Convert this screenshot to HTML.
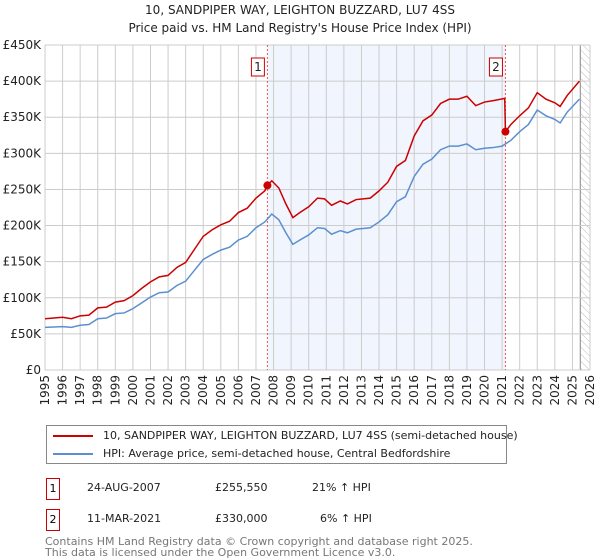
<!DOCTYPE html>
<html><head><meta charset="utf-8"><style>
body{margin:0;width:600px;height:560px;background:#fff;font-family:"DejaVu Sans","Liberation Sans",sans-serif;overflow:hidden;position:relative}
.t{position:absolute;white-space:nowrap}
</style></head><body>
<div class="t" style="left:0;width:600px;text-align:center;top:3px;font-size:12px;color:#222">10, SANDPIPER WAY, LEIGHTON BUZZARD, LU7 4SS</div>
<div class="t" style="left:0;width:600px;text-align:center;top:21px;font-size:12px;color:#222">Price paid vs. HM Land Registry's House Price Index (HPI)</div>
<svg id="chart" width="600" height="420" style="position:absolute;left:0;top:0;font-family:'DejaVu Sans',sans-serif"></svg>
<div style="position:absolute;left:46px;top:425px;width:459px;height:37px;border:1px solid #888">
<div class="t" style="left:6px;top:3px;font-size:11px;color:#222"><span style="display:inline-block;width:40px;height:2px;background:#cc0000;vertical-align:middle;margin-right:10px"></span>10, SANDPIPER WAY, LEIGHTON BUZZARD, LU7 4SS (semi-detached house)</div>
<div class="t" style="left:6px;top:21px;font-size:11px;color:#222"><span style="display:inline-block;width:40px;height:2px;background:#5b8fd0;vertical-align:middle;margin-right:10px"></span>HPI: Average price, semi-detached house, Central Bedfordshire</div>
</div>
<div>
<div class="t" style="left:46px;top:478px;width:12px;height:20px;border:1px solid #cc0000;font-size:11px;text-align:center;line-height:20px">1</div>
<div class="t" style="left:87px;top:481px;font-size:11px;color:#222">24-AUG-2007</div>
<div class="t" style="left:215px;top:481px;font-size:11px;color:#222">£255,550</div>
<div class="t" style="left:312px;top:481px;font-size:11px;color:#222">21% ↑ HPI</div>
</div>
<div>
<div class="t" style="left:46px;top:509px;width:12px;height:20px;border:1px solid #cc0000;font-size:11px;text-align:center;line-height:20px">2</div>
<div class="t" style="left:87px;top:512px;font-size:11px;color:#222">11-MAR-2021</div>
<div class="t" style="left:215px;top:512px;font-size:11px;color:#222">£330,000</div>
<div class="t" style="left:320px;top:512px;font-size:11px;color:#222">6% ↑ HPI</div>
</div>
<div class="t" style="left:45px;top:536px;font-size:11px;color:#777;line-height:11px">Contains HM Land Registry data © Crown copyright and database right 2025.<br>This data is licensed under the Open Government Licence v3.0.</div>
<script>
const hpiYears=[1995,1996,1996.5,1997,1997.5,1998,1998.5,1999,1999.5,2000,2000.5,2001,2001.5,2002,2002.5,2003,2003.5,2004,2004.5,2005,2005.5,2006,2006.5,2007,2007.5,2007.9,2008.3,2008.7,2009.1,2009.5,2010,2010.5,2010.9,2011.3,2011.8,2012.2,2012.7,2013.1,2013.5,2014,2014.5,2015,2015.5,2016,2016.5,2017,2017.5,2018,2018.5,2019,2019.5,2020,2020.5,2021,2021.5,2022,2022.5,2023,2023.5,2024,2024.3,2024.7,2025.4];
const hpiValues=[59,60,59,62,63,71,72,78,79,85,93,101,107,108,117,123,138,153,160,166,170,180,185,197,205,216,208,190,174,180,187,197,196,188,193,190,195,196,197,205,215,233,240,268,285,292,305,310,310,313,305,307,308,310,318,330,340,360,352,347,342,357,375];
const priceYears=[1995,1996,1996.5,1997,1997.5,1998,1998.5,1999,1999.5,2000,2000.5,2001,2001.5,2002,2002.5,2003,2003.5,2004,2004.5,2005,2005.5,2006,2006.5,2007,2007.5,2007.65,2007.9,2008.3,2008.7,2009.1,2009.5,2010,2010.5,2010.9,2011.3,2011.8,2012.2,2012.7,2013.1,2013.5,2014,2014.5,2015,2015.5,2016,2016.5,2017,2017.5,2018,2018.5,2019,2019.5,2020,2020.5,2021.15,2021.19,2021.5,2022,2022.5,2023,2023.5,2024,2024.3,2024.7,2025.4];
const priceValues=[71,73,71,75,76,86,87,94,96,103,113,122,129,131,142,149,167,185,194,201,206,218,224,238,248,255.5,262,252,230,211,218,226,238,237,228,234,230,236,237,238,248,260,282,290,324,345,353,369,375,375,379,366,371,373,376,330,340,352,363,384,375,370,365,380,400];
const saleYears=[2007.65,2021.19];
const saleValues=[255.55,330];
const saleLabels=["1","2"];
const yTicks=[0,50,100,150,200,250,300,350,400,450];
const yTickLabels=["£0","£50K","£100K","£150K","£200K","£250K","£300K","£350K","£400K","£450K"];
const xTicks=[1995,1996,1997,1998,1999,2000,2001,2002,2003,2004,2005,2006,2007,2008,2009,2010,2011,2012,2013,2014,2015,2016,2017,2018,2019,2020,2021,2022,2023,2024,2025,2026];

const L=45,R=590,T=45,B=370,dataEnd=2025.45;
const x=v=>L+(v-1995)/(2026-1995)*(R-L);
const y=v=>B-v/450*(B-T);
const svg=document.getElementById('chart');
const NS='http://www.w3.org/2000/svg';
function mk(tag,attrs){const e=document.createElementNS(NS,tag);for(const k in attrs)e.setAttribute(k,attrs[k]);svg.appendChild(e);return e;}
const defs=mk('defs',{});
defs.innerHTML='<pattern id="hatch" width="5" height="5" patternUnits="userSpaceOnUse" patternTransform="rotate(-45)"><line x1="0" y1="0" x2="0" y2="5" stroke="#bbb" stroke-width="1"/></pattern>';
let sh=mk('rect',{x:x(saleYears[0]),y:T,width:x(saleYears[1])-x(saleYears[0]),height:B-T,fill:'#eef3fc',opacity:0.8});


let ht=mk('rect',{x:x(dataEnd),y:T,width:R-x(dataEnd),height:B-T,fill:'url(#hatch)'});


mk('line',{x1:x(dataEnd),x2:x(dataEnd),y1:T,y2:B,stroke:'#999','stroke-width':1.2});
yTicks.forEach((v,i)=>{
 const g=mk('line',{x1:L,x2:R,y1:y(v),y2:y(v),stroke:'#ccc','stroke-width':1});
 
 
 const t=mk('text',{x:L-4,y:y(v)+4,'text-anchor':'end','font-size':12,fill:'#222'});
 t.textContent=yTickLabels[i];
 
 
});
xTicks.forEach(v=>{
 const g=mk('line',{x1:x(v),x2:x(v),y1:T,y2:B,stroke:'#ccc','stroke-width':1});
 
 
 const t=mk('text',{x:x(v)+4,y:B+5,'text-anchor':'end','font-size':12,fill:'#222',transform:`rotate(-90 ${x(v)+4} ${B+5})`});
 t.textContent=v;
 
 
});
mk('line',{x1:L,x2:L,y1:T,y2:B,stroke:'#ccc'});
mk('line',{x1:L,x2:R,y1:B,y2:B,stroke:'#ccc'});
saleYears.forEach((v,i)=>{
 const d=mk('line',{x1:x(v),x2:x(v),y1:T,y2:B,stroke:'#e55','stroke-width':1,'stroke-dasharray':'2,2'});
 
 
 const bx=mk('rect',{x:x(v)-16,y:58,width:13,height:18,fill:'#fff',stroke:'#cc0000'});
 
 
 const t=mk('text',{x:x(v)-9.5,y:71,'text-anchor':'middle','font-size':12,fill:'#222'});
 t.textContent=saleLabels[i];
 
 
});
const hp=mk('polyline',{points:hpiYears.map((v,i)=>x(v)+','+y(hpiValues[i])).join(' '),fill:'none',stroke:'#5b8fd0','stroke-width':1.5});


const pp=mk('polyline',{points:priceYears.map((v,i)=>x(v)+','+y(priceValues[i])).join(' '),fill:'none',stroke:'#cc0000','stroke-width':1.5});


saleYears.forEach((v,i)=>{
 const c=mk('circle',{cx:x(v),cy:y(saleValues[i]),r:4,fill:'#cc0000'});
 
 
});
</script>
</body></html>
